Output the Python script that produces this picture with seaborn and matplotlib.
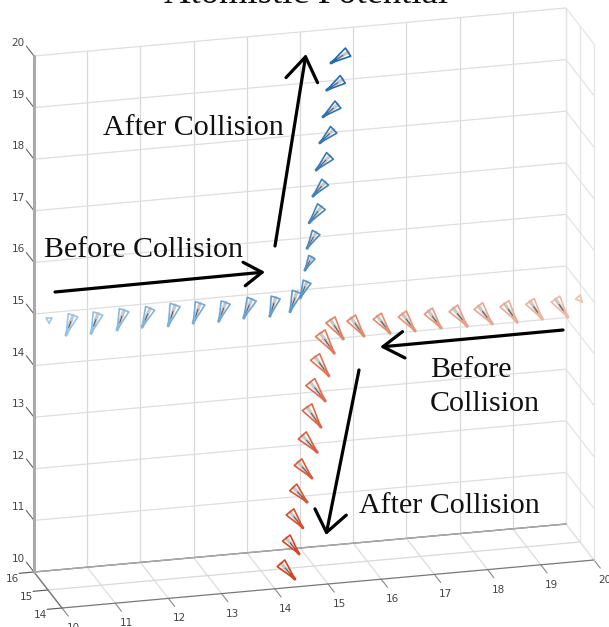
import numpy as np
import matplotlib
matplotlib.use('Agg')
import matplotlib.pyplot as plt
import seaborn as sns

# blue cones (tip position + direction)
blue_x = [10.02, 10.34, 10.81, 11.30, 11.77, 12.26, 12.73, 13.21, 13.68, 14.17, 14.55,
          14.74, 14.83, 14.87, 14.91, 14.98, 15.04, 15.11, 15.17, 15.24, 15.32]
blue_z = [15.17, 14.91, 14.90, 14.92, 14.93, 14.91, 14.92, 14.91, 14.93, 14.92, 14.97,
          15.22, 15.75, 16.17, 16.66, 17.17, 17.67, 18.19, 18.69, 19.20, 19.72]
blue_u = [0.00, 0.13, 0.13, 0.13, 0.15, 0.13, 0.13, 0.13, 0.15, 0.11, 0.13,
          0.13, 0.13, 0.17, 0.23, 0.23, 0.26, 0.26, 0.28, 0.30, 0.32]
blue_w = [0.10, 0.37, 0.37, 0.37, 0.35, 0.39, 0.37, 0.35, 0.35, 0.35, 0.37,
          0.30, 0.24, 0.29, 0.29, 0.25, 0.25, 0.23, 0.21, 0.18, 0.18]

# red cones
red_x = [20.04, 19.77, 19.29, 18.82, 18.35, 17.88, 17.39, 16.90, 16.43, 15.94, 15.55,
         15.38, 15.28, 15.21, 15.13, 15.06, 14.96, 14.87, 14.79, 14.72, 14.64]
red_z = [14.65, 14.38, 14.39, 14.37, 14.38, 14.38, 14.39, 14.38, 14.38, 14.37, 14.35,
         14.09, 13.66, 13.18, 12.68, 12.20, 11.71, 11.25, 10.76, 10.26, 9.78]
red_u = [-0.08, -0.23, -0.23, -0.24, -0.26, -0.26, -0.24, -0.24, -0.24, -0.24, -0.24,
         -0.26, -0.26, -0.28, -0.26, -0.28, -0.26, -0.26, -0.24, -0.24, -0.26]
red_w = [0.10, 0.37, 0.36, 0.38, 0.37, 0.37, 0.35, 0.35, 0.35, 0.37, 0.39,
         0.41, 0.39, 0.39, 0.41, 0.35, 0.33, 0.31, 0.33, 0.33, 0.33]

x_ticks = [10, 11, 12, 13, 14, 15, 16, 17, 18, 19, 20]
y_ticks = [14, 15, 16]
z_ticks = [10, 11, 12, 13, 14, 15, 16, 17, 18, 19, 20]

title = 'Atomistic Potential'
notes = [('After Collision', 103, 135), ('Before Collision', 44, 257),
         ('Before', 430, 377), ('Collision', 430, 411), ('After Collision', 359, 513)]
# start, tip, head length, head half width
arrows = [((275, 246), (306, 54), 1.7, 1.15), ((55, 292), (265, 272), 1.3, 0.85),
          ((563, 330), (380, 347), 1.5, 0.95), ((359, 370), (326, 535), 1.5, 1.15)]


def project(x, y, z):
    # the box is a parallel projection, so this is plain affine
    return (34 + 53.2 * (x - 10) + 14 * (16 - y),
            572 - 4.8 * (x - 10) - 51.6 * (z - 10) + 18 * (16 - y))


def line(ax, p, q, color, lw):
    sns.lineplot(x=[p[0], q[0]], y=[p[1], q[1]], color=color, linewidth=lw, ax=ax,
                 sort=False, estimator=None, legend=False)


def cone(ax, x, z, u, w, color):
    tip = np.array(project(x, 15, z))
    base = np.array(project(x + u, 15, z + w))
    d = base - tip
    size = np.hypot(*d)
    n = np.array([-d[1], d[0]]) / size * max(0.24 * size, 3)
    a, b = base + n, base - n
    if size > 10:
        line(ax, tip, base, '#c8c8c8', 2.4)
        line(ax, tip, tip + d * 0.7, '#555555', 0.7)
    sns.lineplot(x=[tip[0], a[0], b[0], tip[0]], y=[tip[1], a[1], b[1], tip[1]], color=color,
                 linewidth=1.2, ax=ax, sort=False, estimator=None, legend=False)
    if size > 10:
        line(ax, tip, tip + d * 0.3, color, 2.0)


sns.set_theme(style='white')
plt.rcParams['font.family'] = ['DejaVu Sans']

fig = plt.figure(figsize=(6.09, 6.27), dpi=100)
ax = fig.add_axes([0, 0, 1, 1])

grid = '#dedede'
for x in x_ticks:
    line(ax, project(x, 16, 10), project(x, 16, 20), '#d8d8d8', 0.9)
    line(ax, project(x, 16, 10), project(x, 14, 10), '#dddddd', 0.9)
    line(ax, project(x, 14, 10), project(x, 13.55, 10), '#888888', 0.8)
    sx, sy = project(x, 14, 10)
    ax.text(sx + 11, sy + 20, str(x), fontsize=7.5, color='#444444', ha='center', va='center')
for z in z_ticks:
    line(ax, project(10, 16, z), project(20, 16, z), grid, 0.9)
    line(ax, project(20, 16, z), project(20, 14, z), '#e4e4e4', 0.9)
    line(ax, project(10, 16, z), project(10, 16.55, z), '#666666', 0.8)
    sx, sy = project(10, 16, z)
    ax.text(sx - 16, sy - 13, str(z), fontsize=7.5, color='#444444', ha='center', va='center')
for y in y_ticks:
    line(ax, project(20, y, 10), project(20, y, 20), '#e4e4e4', 0.9)
    line(ax, project(10, y, 10), project(20, y, 10), '#d8d8d8' if y == 15 else '#777777', 0.9)
    line(ax, project(10, y, 10), project(9.72, y, 10), '#555555', 0.8)
    sx, sy = project(10, y, 10)
    ax.text(sx - 22, sy + 7.5, str(y), fontsize=7.5, color='#444444', ha='center', va='center')
line(ax, project(10, 16, 10), project(20, 16, 10), '#a8a8a8', 1.0)
line(ax, project(10, 16, 10), project(10, 14, 10), '#777777', 1.0)
line(ax, project(10, 16, 10), project(10, 16, 20), '#aaaaaa', 2.2)

blues = sns.blend_palette(['#9ccbec', '#1f68b4'], len(blue_x))
reds = sns.blend_palette(['#f2bfa8', '#d8401c'], len(red_x))
for i in range(len(blue_x)):
    cone(ax, blue_x[i], blue_z[i], blue_u[i], blue_w[i], blues[i])
for i in range(len(red_x)):
    cone(ax, red_x[i], red_z[i], red_u[i], red_w[i], reds[i])

for start, tip, hl, hw in arrows:
    ax.annotate('', xy=tip, xytext=start,
                arrowprops=dict(arrowstyle=f'->,head_length={hl},head_width={hw}', color='black',
                                lw=2.3, shrinkA=0, shrinkB=0, mutation_scale=10))
for txt, sx, sy in notes:
    ax.text(sx, sy, txt, fontsize=21.6, family='Liberation Serif', color='#111111',
            ha='left', va='baseline')
ax.text(306, 3, title, fontsize=26.4, family='Liberation Serif', color='#111111',
        ha='center', va='baseline', clip_on=False)

ax.set_xlim(0, 609)
ax.set_ylim(627, 0)
ax.axis('off')
fig.savefig('out.png', dpi=100)
